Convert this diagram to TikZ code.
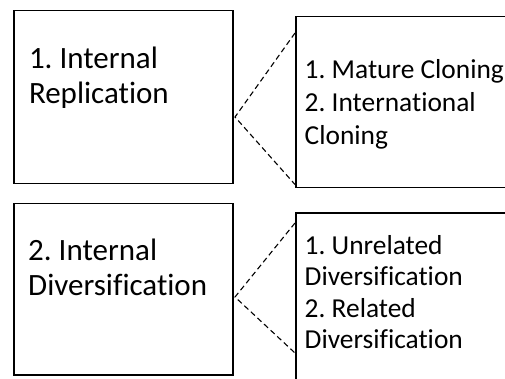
\documentclass[tikz,border=0pt]{standalone}
\usepackage{fontspec}
\setmainfont{Carlito}[Ligatures=NoCommon]
\usetikzlibrary{calc}
\frenchspacing
\begin{document}
\begin{tikzpicture}[x=1pt,y=1pt,
  boxst/.style={draw=black, line width=1.5pt, fill=white},
  bigtxt/.style={anchor=base west, inner sep=0pt, align=left, font=\fontsize{31}{35}\selectfont},
  smalltxt/.style={anchor=base west, inner sep=0pt, align=left, font=\fontsize{27.4}{33}\selectfont},
  smalltxtb/.style={anchor=base west, inner sep=0pt, align=left, font=\fontsize{27.4}{31.3}\selectfont},
  link/.style={draw=black, line width=1.1pt, dash pattern=on 5.5pt off 3.5pt}]
\clip (0,0) rectangle (505,-379);
\fill[white] (0,0) rectangle (505,-379);
% boxes
\node[boxst, minimum width=219pt, minimum height=173pt, anchor=north west, inner sep=0pt] (L1) at (13,-10) {};
\node[boxst, minimum width=230pt, minimum height=171pt, anchor=north west, inner sep=0pt] (R1) at (295,-16) {};
\node[boxst, minimum width=219pt, minimum height=171pt, anchor=north west, inner sep=0pt] (L2) at (13,-203) {};
\node[boxst, minimum width=230pt, minimum height=185pt, anchor=north west, inner sep=0pt] (R2) at (295,-212) {};
% texts (anchor = baseline of last line)
\node[bigtxt] (t1) at (28.8,-103.8) {1. Internal\\Replication};
\node[bigtxt] (t2) at (28,-295.3) {2. Internal\\Diversification};
\node[smalltxt] (t3) at (304.5,-144.5) {1. Mature Cloning\\2. International\\Cloning};
\node[smalltxtb] (t4) at (304.5,-348.3) {1. Unrelated\\Diversification\\2. Related\\Diversification};
% connector ends
\coordinate (a1) at (235,-117);
\coordinate (b1) at ($(R1.north west)+(0,-17)$);
\coordinate (c1) at ($(R1.south west)+(0,4)$);
\coordinate (a2) at (235,-297);
\coordinate (b2) at ($(R2.north west)+(0,-11)$);
\coordinate (c2) at ($(R2.north west)+(0,-141)$);
\draw[link] (b1) -- (a1) -- (c1);
\draw[link] (b2) -- (a2) -- (c2);
\end{tikzpicture}
\end{document}
